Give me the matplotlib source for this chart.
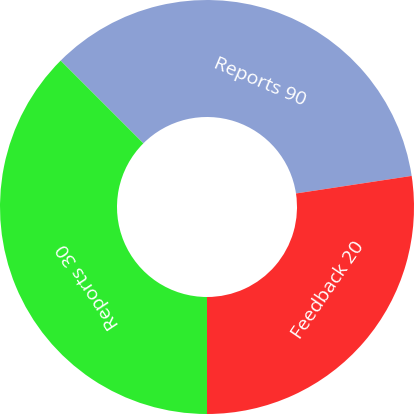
import matplotlib
matplotlib.use("Agg")
import matplotlib.pyplot as plt
import numpy as np

# data (slice shares)
labels = ["Reports 90", "Feedback 20", "Reports 30"]
values = [35.1, 27.4, 37.5]

# style
colors = ["#8ca0d4", "#fb2d2d", "#2eeb2e"]
start_angle = 135
hole = 90 / 207
label_angles = [67, -34.4, 213.5]     # degrees, where each label sits
label_radius = [0.655, 0.71, 0.69]    # fraction of outer radius

plt.rcParams['font.family'] = ['Open Sans', 'DejaVu Sans']

fig = plt.figure(figsize=(4.15, 4.15), dpi=100)
ax = fig.add_axes([0, 0, 1, 1])
wedges, _ = ax.pie(values, colors=colors, startangle=start_angle,
                   counterclock=False, radius=1.0,
                   wedgeprops=dict(width=1 - hole, linewidth=0))

for lab, ang, r in zip(labels, label_angles, label_radius):
    a = np.deg2rad(ang)
    x, y = r * np.cos(a), r * np.sin(a)
    rot = ang - 90
    while rot <= -180:
        rot += 360
    while rot > 180:
        rot -= 360
    if rot < -90:
        rot += 180
    ax.text(x, y, lab, rotation=rot, rotation_mode='anchor',
            ha='center', va='center', color='white', fontsize=14)

ax.set_xlim(-207 / 207, 208 / 207)
ax.set_ylim(-208 / 207, 207 / 207)
ax.set_aspect('equal')
ax.axis('off')
fig.savefig("out.png", dpi=100, facecolor='white')
